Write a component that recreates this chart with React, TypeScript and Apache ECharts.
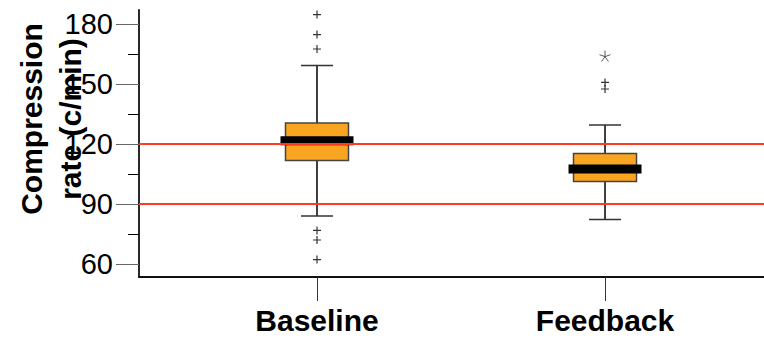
import React, { useEffect, useRef } from 'react';
import * as echarts from 'echarts';

const categories = ['Baseline', 'Feedback'];
const categoryPositions = [1, 2];
// [lower whisker, Q1, median, Q3, upper whisker]
const baselineStats = [84, 111.7, 121.6, 130.5, 159.2];
const feedbackStats = [82.2, 101.2, 107.5, 115.3, 129.5];
const baselineOutliers = [184.7, 174.7, 167.5, 76.8, 72, 62.2];
const feedbackOutliers = [150.8, 147.5];
const feedbackExtremes = [164];
const referenceLines = [120, 90];
const yTicks = [60, 90, 120, 150, 180];
const yMinorTicks = [75, 105, 135, 165];

const FONT = '"Liberation Sans", Arial, Helvetica, sans-serif';

export default function App() {
  const ref = useRef<HTMLDivElement>(null);

  useEffect(() => {
    document.body.style.margin = '0';
    if (!ref.current) return;
    const chart = echarts.init(ref.current, null, { renderer: 'svg' });

    const boxData = [
      [categoryPositions[0], ...baselineStats],
      [categoryPositions[1], ...feedbackStats],
    ];
    const outlierData = [
      ...baselineOutliers.map((v) => [categoryPositions[0], v]),
      ...feedbackOutliers.map((v) => [categoryPositions[1], v]),
    ];
    const extremeData = feedbackExtremes.map((v) => [categoryPositions[1], v]);

    const yCommon = {
      type: 'value',
      min: 53.5,
      max: 187,
      position: 'left',
      splitLine: { show: false },
    };

    chart.setOption({
      animation: false,
      grid: { left: 139, right: 0, top: 10, bottom: 62, containLabel: false },
      xAxis: {
        type: 'value',
        min: 0.382,
        max: 2.552,
        splitLine: { show: false },
        axisLine: { show: true, onZero: false, lineStyle: { color: '#111', width: 1.8 } },
        axisTick: {
          show: true,
          customValues: categoryPositions,
          length: 24,
          lineStyle: { color: '#333', width: 1 },
        },
        axisLabel: {
          show: true,
          customValues: categoryPositions,
          formatter: (v: number) => categories[categoryPositions.indexOf(Math.round(v))] ?? '',
          fontFamily: FONT,
          fontSize: 30,
          fontWeight: 'bold',
          color: '#000',
          margin: 28,
        },
      },
      yAxis: [
        {
          ...yCommon,
          axisLine: { show: true, onZero: false, lineStyle: { color: '#111', width: 1.8 } },
          axisTick: {
            show: true,
            customValues: yTicks,
            length: 23,
            lineStyle: { color: '#666', width: 1 },
          },
          axisLabel: {
            show: true,
            customValues: yTicks,
            fontFamily: FONT,
            fontSize: 29,
            color: '#000',
            margin: 26,
          },
        },
        {
          ...yCommon,
          axisLine: { show: false },
          axisTick: {
            show: true,
            customValues: yMinorTicks,
            length: 11,
            lineStyle: { color: '#000', width: 1 },
          },
          axisLabel: { show: false },
        },
      ],
      graphic: [
        {
          type: 'text',
          x: 51,
          y: 119,
          rotation: Math.PI / 2,
          z: 100,
          style: {
            text: 'Compression\nrate (c/min)',
            font: `bold 30px ${FONT}`,
            fill: '#000',
            align: 'center',
            verticalAlign: 'middle',
            lineHeight: 39,
          },
        },
      ],
      series: [
        {
          type: 'line',
          data: [],
          z: 1,
          markLine: {
            silent: true,
            symbol: 'none',
            label: { show: false },
            lineStyle: { color: '#FF3A1E', width: 2, type: 'solid', opacity: 1 },
            data: referenceLines.map((v) => ({ yAxis: v })),
          },
        },
        {
          type: 'custom',
          z: 3,
          data: boxData,
          encode: { x: 0, y: [1, 2, 3, 4, 5] },
          renderItem: (params: any, api: any) => {
            const x = api.value(0);
            const lo = api.coord([x, api.value(1)]);
            const q1 = api.coord([x, api.value(2)]);
            const med = api.coord([x, api.value(3)]);
            const q3 = api.coord([x, api.value(4)]);
            const hi = api.coord([x, api.value(5)]);
            const cx = lo[0];
            const boxW = 63;
            const capW = 32;
            const medW = 73;
            const medH = 9;
            const whisker = { stroke: '#000', lineWidth: 1.5 };
            const cap = { stroke: '#333', lineWidth: 1.5 };
            return {
              type: 'group',
              children: [
                { type: 'line', shape: { x1: cx, y1: hi[1], x2: cx, y2: q3[1] }, style: whisker },
                { type: 'line', shape: { x1: cx, y1: q1[1], x2: cx, y2: lo[1] }, style: whisker },
                { type: 'line', shape: { x1: cx - capW / 2, y1: hi[1], x2: cx + capW / 2, y2: hi[1] }, style: cap },
                { type: 'line', shape: { x1: cx - capW / 2, y1: lo[1], x2: cx + capW / 2, y2: lo[1] }, style: cap },
                {
                  type: 'rect',
                  shape: { x: cx - boxW / 2, y: q3[1], width: boxW, height: q1[1] - q3[1] },
                  style: { fill: '#FAA522', stroke: '#444', lineWidth: 1.5 },
                },
                {
                  type: 'rect',
                  shape: { x: cx - medW / 2, y: med[1] - medH / 2, width: medW, height: medH },
                  style: { fill: '#000' },
                },
              ],
            };
          },
        },
        {
          type: 'scatter',
          z: 4,
          data: outlierData,
          symbol: 'path://M0,-1L0,1M-1,0L1,0',
          symbolSize: 8,
          itemStyle: { color: 'none', borderColor: '#000', borderWidth: 1.2 },
        },
        {
          type: 'scatter',
          z: 4,
          data: extremeData,
          symbol:
            'path://M0,0L0,-1M0,0L0.951,-0.309M0,0L0.588,0.809M0,0L-0.588,0.809M0,0L-0.951,-0.309',
          symbolSize: 11,
          itemStyle: { color: 'none', borderColor: '#333', borderWidth: 1 },
        },
      ],
    });

    return () => chart.dispose();
  }, []);

  return <div ref={ref} style={{ width: 764, height: 339 }} />;
}
